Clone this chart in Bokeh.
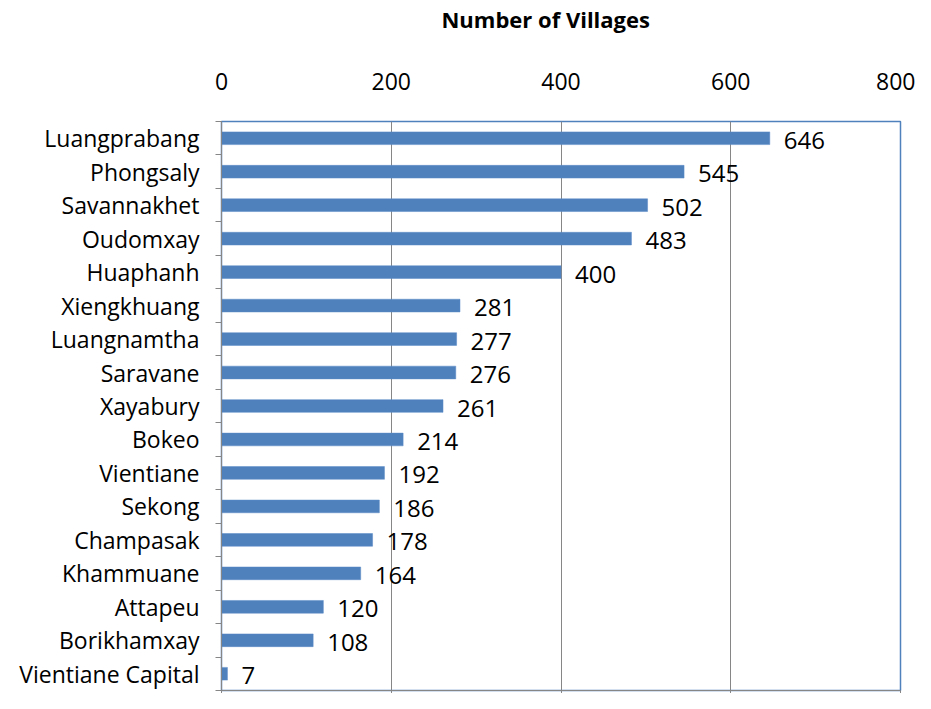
from bokeh.plotting import figure
from bokeh.models import Range1d, LinearAxis, FixedTicker, ColumnDataSource
from bokeh.core.properties import value
from bokeh.embed import file_html
from bokeh.resources import INLINE

provinces = ["Luangprabang", "Phongsaly", "Savannakhet", "Oudomxay", "Huaphanh",
             "Xiengkhuang", "Luangnamtha", "Saravane", "Xayabury", "Bokeo",
             "Vientiane", "Sekong", "Champasak", "Khammuane", "Attapeu",
             "Borikhamxay", "Vientiane Capital"]
villages = [646, 545, 502, 483, 400, 281, 277, 276, 261, 214, 192, 186, 178, 164, 120, 108, 7]
x_ticks = [0, 200, 400, 600, 800]
axis_title = "Number of Villages"
title_pos = 382  # horizontal centre of the title, in axis units

FONT = "Open Sans"
n = len(provinces)
ypos = [n - 1 - i for i in range(n)]

src = ColumnDataSource(dict(y=ypos, v=villages, lab=[str(v) for v in villages], name=provinces))

p = figure(width=915, height=693, output_backend="svg", toolbar_location=None,
           x_range=Range1d(0, 800), y_range=Range1d(-0.5, n - 0.5),
           x_axis_location=None, y_axis_location=None,
           min_border_left=221, min_border_right=15, min_border_top=116, min_border_bottom=1)

p.outline_line_color = "#4F81BD"
p.outline_line_width = 1.5
p.background_fill_color = "white"
p.border_fill_color = "white"

p.ygrid.grid_line_color = None
p.xgrid.ticker = FixedTicker(ticks=x_ticks)
p.xgrid.grid_line_color = "#868686"
p.xgrid.grid_line_width = 1

p.hbar(y="y", right="v", left=0, height=0.38, source=src,
       fill_color="#4F81BD", line_color="#5A8AC6", line_width=0.5)

p.text(x="v", y="y", text="lab", source=src, x_offset=14, y_offset=2,
       text_baseline="middle", text_align="left",
       text_font=value(FONT), text_font_size="24px", text_color="black")

# top axis
top = LinearAxis(ticker=FixedTicker(ticks=x_ticks))
top.axis_line_color = None
top.major_tick_line_color = None
top.minor_tick_line_color = None
top.major_label_standoff = 26
top.major_label_text_font = FONT
top.major_label_text_font_size = "23px"
top.major_label_text_color = "black"
p.add_layout(top, "above")

# title row above the tick labels
ttl = LinearAxis(ticker=FixedTicker(ticks=[title_pos]))
ttl.major_label_overrides = {title_pos: axis_title}
ttl.axis_line_color = None
ttl.major_tick_line_color = None
ttl.minor_tick_line_color = None
ttl.major_label_standoff = 30
ttl.major_label_text_font = FONT
ttl.major_label_text_font_size = "22px"
ttl.major_label_text_font_style = "bold"
ttl.major_label_text_color = "black"
p.add_layout(ttl, "above")

# bottom axis (line + small ticks only, no labels)
bot = LinearAxis(ticker=FixedTicker(ticks=[], minor_ticks=x_ticks))
bot.axis_line_color = "#868686"
bot.major_tick_line_color = None
bot.minor_tick_line_color = "#868686"
bot.minor_tick_out = 3
bot.minor_tick_in = 0
p.add_layout(bot, "below")

# left category axis
left = LinearAxis(ticker=FixedTicker(ticks=ypos, minor_ticks=[k + 0.5 for k in range(-1, n)]))
left.major_label_overrides = {y: nm for y, nm in zip(ypos, provinces)}
left.axis_line_color = "#868686"
left.major_tick_line_color = None
left.major_tick_out = 0
left.major_tick_in = 0
left.minor_tick_line_color = "#868686"
left.minor_tick_out = 6
left.minor_tick_in = 0
left.major_label_standoff = 16
left.major_label_text_font = FONT
left.major_label_text_font_size = "23px"
left.major_label_text_color = "black"
p.add_layout(left, "left")

open("out.html", "w").write(file_html(p, INLINE))
